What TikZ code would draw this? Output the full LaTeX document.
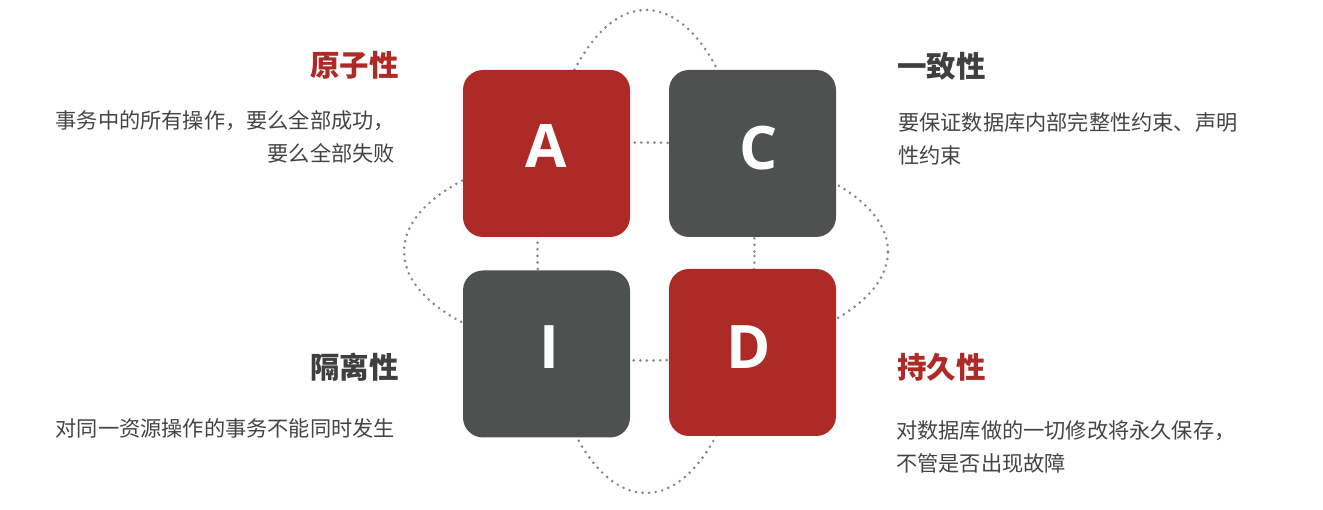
\documentclass[tikz,border=0pt]{standalone}
\usepackage{fontspec}
\newfontfamily\cjk{Noto Sans CJK SC}
\newfontfamily\lat{Open Sans}
\definecolor{accred}{HTML}{AE2A27}
\definecolor{slate}{HTML}{4D5251}
\definecolor{titlegray}{HTML}{3F3F3F}
\definecolor{bodygray}{HTML}{444444}
\definecolor{dotgray}{HTML}{888888}
\begin{document}
\begin{tikzpicture}[x=1pt,y=-1pt,
  box/.style={rounded corners=20pt, minimum width=167pt, minimum height=167pt, inner sep=0pt, draw=none},
  letter/.style={text=white, inner sep=0pt, anchor=base, font=\lat\bfseries\fontsize{60}{60}\selectfont},
  ttl/.style={inner sep=0pt, font=\cjk\bfseries\fontsize{29.5}{31}\selectfont},
  body/.style={inner sep=0pt, text=bodygray, font=\cjk\fontsize{21.2}{33}\selectfont},
  dots/.style={draw=dotgray, line width=2.9pt, line cap=round, dash pattern=on 0pt off 6.6pt}
]
\useasboundingbox (0,0) rectangle (1323,510);
% decorative ellipses behind the boxes
\draw[dots] (646,251.5) ellipse [x radius=108.5pt, y radius=241.5pt];
\draw[dots] (646,251.5) ellipse [x radius=242pt, y radius=109pt];
% boxes
\node[box, fill=accred] (A) at (546.5,153.5) {};
\node[box, fill=slate]  (C) at (752.5,153.5) {};
\node[box, fill=slate]  (I) at (546.5,354) {};
\node[box, fill=accred] (D) at (752.5,352.5) {};
% letters
\node[letter] (la) at (546,168) {A};
\node[letter] (lc) at (759,170) {C};
\node[letter] (li) at (549,369) {I};
\node[letter] (ld) at (749,369) {D};
% titles
\node[ttl, text=accred, anchor=east] (t1) at (399,65) {原子性};
\node[ttl, text=titlegray, anchor=west] (t2) at (897,66) {一致性};
\node[ttl, text=titlegray, anchor=east] (t3) at (399,367) {隔离性};
\node[ttl, text=accred, anchor=west] (t4) at (897,367) {持久性};
% descriptions
\node[body, anchor=east, align=right] (b1) at (395,136.5) {事务中的所有操作，要么全部成功，\\要么全部失败};
\node[body, anchor=west, align=left] (b2) at (898,138.5) {要保证数据库内部完整性约束、声明\\性约束};
\node[body, anchor=east, align=right] (b3) at (395,428) {对同一资源操作的事务不能同时发生};
\node[body, anchor=west, align=left] (b4) at (896,446.5) {对数据库做的一切修改将永久保存，\\不管是否出现故障};
\end{tikzpicture}
\end{document}
